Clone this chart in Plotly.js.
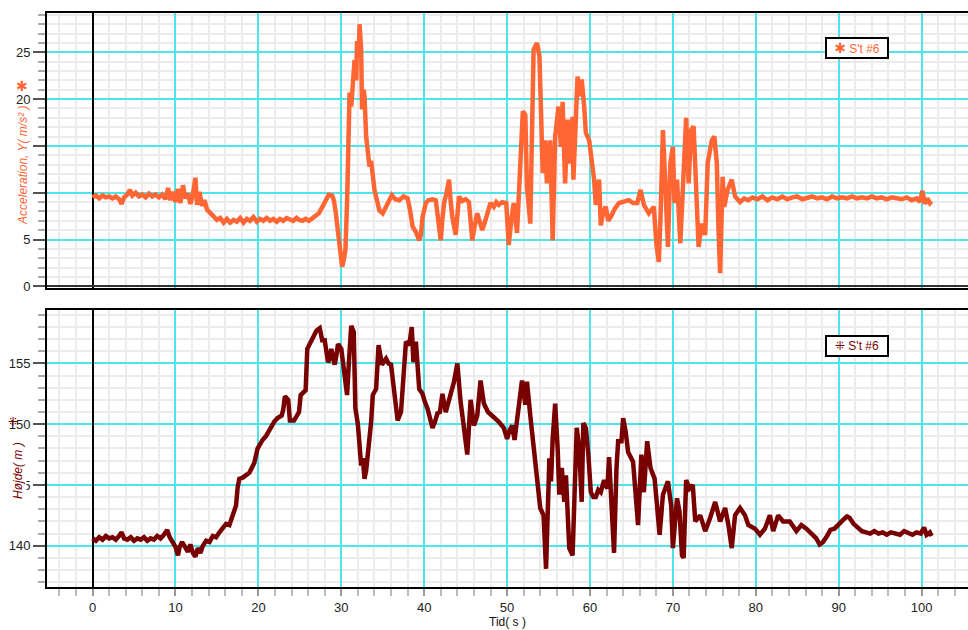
<!DOCTYPE html>
<html>
<head>
<meta charset="utf-8">
<script src="https://cdn.plot.ly/plotly-3.0.1.min.js"></script>
<style>html,body{margin:0;padding:0;background:#fff;}#chart{width:968px;height:630px;}</style>
</head>
<body>
<div id="chart"></div>
<script>
// Acceleration, Y (m/s²) – series "S't #6"
const accT = [0,0.4,0.8,1.2,1.6,2.0,2.4,2.8,3.2,3.5,3.8,4.2,4.5,4.8,5.2,5.6,6.0,6.4,6.8,7.2,7.6,8.0,8.4,8.8,9.1,9.4,9.7,10.0,10.3,10.6,10.9,11.2,11.5,11.8,12.1,12.4,12.6,12.9,13.2,13.5,13.8,14.2,14.6,15.0,15.4,15.8,16.2,16.6,17.0,17.4,17.8,18.2,18.6,19.0,19.4,19.8,20.2,20.6,21.0,21.4,21.8,22.2,22.6,23.0,23.4,23.8,24.2,24.6,24.9,25.3,25.7,26.1,26.5,26.9,27.3,27.6,27.9,28.2,28.5,28.9,29.1,29.3,29.5,29.7,29.9,30.1,30.3,30.5,30.7,30.8,31.0,31.2,31.4,31.6,31.8,31.9,32.1,32.2,32.4,32.5,32.7,32.8,33.0,33.2,33.4,33.6,33.8,34.0,34.3,34.6,35.0,35.4,35.8,36.1,36.5,37.0,37.5,38.0,38.3,38.6,39.0,39.4,39.6,39.8,40.2,40.5,41.0,41.4,41.7,42.0,42.2,42.4,42.7,43.0,43.2,43.4,43.8,44.0,44.2,44.6,45.0,45.4,45.8,46.1,46.4,46.7,47.0,47.3,47.6,48.0,48.4,48.7,49.0,49.4,49.9,50.2,50.5,50.8,51.2,51.6,51.9,52.2,52.4,52.8,53.0,53.2,53.6,53.9,54.1,54.3,54.6,54.8,55.2,55.5,55.8,56.2,56.5,56.7,57.0,57.3,57.6,57.9,58.0,58.3,58.5,58.8,59.0,59.3,59.5,59.9,60.2,60.5,60.7,61.1,61.3,61.6,61.9,62.2,62.5,63.0,63.5,64.0,64.7,65.2,65.7,66.1,66.5,67.1,67.7,68.0,68.3,68.5,68.8,69.1,69.4,69.7,70.0,70.2,70.5,70.9,71.3,71.6,71.9,72.2,72.5,72.7,73.1,73.5,73.9,74.2,74.7,75.0,75.3,75.5,75.7,76.0,76.2,76.6,77.1,77.5,78.1,78.6,79.1,79.6,80.2,80.8,81.4,82.0,82.6,83.2,83.8,84.4,85.0,85.6,86.2,86.8,87.4,88.0,88.6,89.2,89.8,90.4,91.0,91.6,92.2,92.8,93.4,94.0,94.6,95.2,95.8,96.4,97.0,97.6,98.2,98.8,99.4,99.8,100.1,100.4,100.7,101.0,101.2];
const accY = [9.5,9.7,9.4,9.7,9.5,9.6,9.4,9.6,9.3,8.8,9.5,9.8,10.3,9.7,10.0,9.6,9.8,9.5,9.9,9.6,9.8,9.5,9.8,9.3,10.5,9.2,10.1,9.0,10.4,8.9,10.8,9.4,9.9,8.8,9.8,11.6,8.7,10.1,8.6,9.2,8.2,7.8,7.4,7.1,7.3,6.8,7.2,6.8,7.1,6.9,7.3,6.8,7.2,7.0,7.4,6.9,7.2,7.0,7.3,7.0,7.2,6.9,7.2,7.0,7.3,7.1,7.0,7.3,7.1,7.0,7.2,7.0,7.3,7.5,7.8,8.3,8.8,9.2,9.8,9.7,9.2,8.1,6.8,5.3,3.5,2.1,2.8,3.9,9.0,13.5,20.7,19.2,21.5,24.2,22.0,26.2,24.5,28.0,25.3,18.9,21.0,20.3,16.0,14.5,12.8,13.4,11.2,10.3,9.2,8.1,7.8,8.6,9.4,9.75,9.3,9.2,9.6,9.4,8.1,6.4,5.8,4.9,5.5,7.4,8.9,9.2,9.3,9.2,7.0,4.9,7.2,8.9,10.0,11.4,9.0,7.4,5.5,7.5,9.6,9.1,9.3,9.0,4.9,6.5,7.8,6.9,6.0,6.8,7.6,8.9,8.5,9.0,8.7,9.0,8.9,4.4,7.0,8.9,5.7,14.3,18.7,18.3,10.6,6.7,16.0,25.3,26.0,24.6,18.5,12.1,15.6,11.0,15.6,4.9,16.0,19.2,14.9,19.7,11.0,17.8,13.1,18.1,11.4,20.3,22.4,20.3,22.1,19.2,16.4,15.6,13.5,11.4,8.7,11.4,6.5,8.0,8.5,7.0,7.4,8.3,8.9,9.0,9.2,8.9,8.9,10.3,8.7,7.8,8.5,4.6,2.6,7.1,16.7,10.6,4.2,13.2,14.9,8.9,11.4,4.6,12.4,18.0,11.0,16.7,17.1,11.7,4.2,6.7,5.5,13.2,15.6,16.0,13.2,6.0,1.4,11.7,8.5,10.3,11.4,9.6,9.0,9.4,9.2,9.5,9.3,9.6,9.2,9.5,9.3,9.6,9.3,9.5,9.6,9.3,9.5,9.6,9.4,9.5,9.3,9.6,9.4,9.5,9.4,9.6,9.4,9.5,9.4,9.6,9.4,9.5,9.3,9.5,9.4,9.3,9.5,9.2,9.4,9.0,10.2,8.8,9.4,8.9,9.1];

// Højde (m) – series "S't #6"
const hT = [0,0.4,0.8,1.2,1.6,2.0,2.4,2.8,3.2,3.5,3.8,4.2,4.6,5.0,5.4,5.8,6.2,6.6,7.0,7.4,7.8,8.2,8.6,9.0,9.3,9.6,10.0,10.3,10.5,10.8,11.1,11.5,11.8,12.1,12.4,12.7,13.0,13.3,13.7,14.1,14.5,14.9,15.3,15.7,16.1,16.5,16.8,17.1,17.3,17.5,17.7,18.1,18.5,18.9,19.2,19.5,19.9,20.2,20.5,20.9,21.2,21.5,21.9,22.3,22.8,23.0,23.2,23.6,23.8,24.3,24.6,24.9,25.1,25.4,25.7,25.9,26.3,26.7,27.0,27.4,27.7,28.0,28.2,28.4,28.6,28.8,29.0,29.2,29.4,29.6,30.0,30.2,30.4,30.7,30.9,31.2,31.5,31.7,32.0,32.2,32.4,32.6,32.8,33.0,33.2,33.6,33.8,34.2,34.5,34.7,34.9,35.4,35.7,36.0,36.4,36.8,37.2,37.4,37.8,38.2,38.5,38.7,39.0,39.4,39.8,40.1,40.4,40.7,41.0,41.3,41.6,41.9,42.2,42.6,43.2,43.6,44.0,44.4,44.8,45.2,45.6,46.0,46.4,46.8,47.2,47.7,48.2,48.6,49.0,49.6,50.0,50.3,50.6,50.9,51.3,51.8,52.2,52.4,52.8,53.2,53.6,54.0,54.4,54.7,55.1,55.3,55.5,55.8,56.1,56.3,56.6,56.9,57.1,57.5,57.9,58.4,58.7,59.0,59.2,59.5,59.8,60.1,60.4,60.7,61.0,61.3,61.7,62.1,62.3,62.7,62.9,63.2,63.4,63.8,64.0,64.3,64.6,65.2,65.5,65.8,66.2,66.5,66.9,67.3,67.8,68.1,68.4,68.8,69.4,69.8,70.0,70.5,70.8,71.1,71.3,71.6,72.0,72.4,72.7,73.3,73.9,74.5,75.1,75.7,76.3,76.7,77.1,77.5,78.1,78.7,79.1,79.9,80.5,81.1,81.7,82.1,82.7,83.3,84.1,84.9,85.5,86.1,86.7,87.3,87.7,88.1,88.6,89.0,89.5,90.0,90.5,91.0,91.3,91.8,92.3,92.8,93.3,93.8,94.3,94.8,95.3,95.8,96.3,96.8,97.4,97.9,98.4,98.9,99.4,99.9,100.3,100.6,101.0,101.2];
const hY = [140.6,140.4,140.7,140.5,140.8,140.6,140.7,140.5,140.8,141.1,140.6,140.5,140.7,140.4,140.6,140.5,140.7,140.4,140.6,140.5,140.8,140.6,140.9,141.3,140.7,140.3,139.9,139.2,139.9,140.3,140.0,139.5,140.1,139.4,139.1,139.8,139.4,140.0,140.4,140.3,140.8,140.7,141.1,141.4,141.8,141.7,142.3,142.8,143.3,144.8,145.5,145.6,145.8,146.0,146.4,146.8,148.0,148.4,148.7,149.0,149.4,149.7,150.2,150.5,150.7,151.2,152.3,152.0,150.3,150.3,150.6,151.0,152.4,152.6,152.8,156.2,156.8,157.3,157.7,157.9,156.9,156.9,156.2,155.1,155.4,156.2,155.5,154.9,155.6,156.6,156.2,155.2,154.0,152.4,154.9,158.1,157.6,151.3,150.0,148.6,146.6,147.2,145.5,146.2,147.5,150.2,152.4,152.9,156.5,155.5,154.9,155.4,155.0,154.9,152.9,150.3,151.0,152.7,156.8,156.5,158.0,155.1,156.8,152.9,152.5,151.8,151.3,150.5,149.7,150.2,150.9,151.0,152.5,151.0,152.4,153.5,155.0,151.8,149.7,147.5,152.0,149.9,150.7,153.6,151.7,151.0,150.7,150.5,150.2,149.7,148.8,149.5,149.9,148.7,150.7,153.6,151.6,153.5,150.7,148.0,145.8,143.1,142.5,138.1,147.2,145.3,148.8,151.7,148.0,144.2,146.4,143.6,145.8,139.8,139.2,149.7,148.0,143.6,150.1,149.7,147.5,144.4,144.0,144.0,144.6,144.4,145.4,144.7,147.3,142.5,139.4,146.4,148.6,148.6,150.5,149.4,147.7,146.9,144.7,141.7,147.5,144.4,148.6,146.4,145.5,143.6,140.9,144.2,145.3,143.3,139.8,143.9,142.8,139.2,139.0,145.4,144.7,145.0,142.0,142.5,141.2,142.3,143.6,142.0,143.1,141.7,139.8,142.5,143.1,142.5,141.7,141.4,140.9,141.4,142.5,141.2,142.5,142.0,142.0,141.2,141.7,141.4,141.0,140.6,140.1,140.3,140.8,141.3,141.4,141.8,142.1,142.4,142.3,141.8,141.5,141.2,141.1,141.0,141.2,141.0,141.1,140.9,141.1,141.0,140.9,141.2,141.0,140.9,141.1,141.0,141.5,140.9,141.1,140.8];

const seriesName = "S't #6";
const accTitle = "Acceleration, Y( m/s² )";
const hTitle = "Højde( m )";
const xTitle = "Tid( s )";

const ORANGE = '#FF6633';
const MAROON = '#780000';
const CYAN = '#4FE3EA';
const MINOR = '#EBEBEB';
const FONT = 'Liberation Sans, Arial, sans-serif';

const traces = [
  {x: accT, y: accY, xaxis: 'x2', yaxis: 'y2', mode: 'lines', name: seriesName,
   line: {color: ORANGE, width: 4.5}, showlegend: false},
  {x: hT, y: hY, xaxis: 'x', yaxis: 'y', mode: 'lines', name: seriesName,
   line: {color: MAROON, width: 4.5}, showlegend: false}
];

const commonX = {
  range: [-5.5, 105.6], tick0: 0, dtick: 10,
  showgrid: true, gridcolor: CYAN, gridwidth: 2,
  zeroline: true, zerolinecolor: '#000', zerolinewidth: 2,
  showline: true, linecolor: '#000', linewidth: 2, mirror: true,
  tickfont: {family: FONT, size: 13, color: '#222'}
};

const layout = {
  width: 968, height: 630,
  margin: {l: 47, r: 0, t: 13, b: 43},
  paper_bgcolor: '#fff', plot_bgcolor: '#fff',
  showlegend: false,
  xaxis: Object.assign({}, commonX, {
    anchor: 'y', domain: [0, 1],
    ticks: 'outside', ticklen: 7, tickwidth: 2, tickcolor: '#999',
    minor: {dtick: 2, showgrid: true, gridcolor: MINOR, gridwidth: 2,
            ticks: 'outside', ticklen: 7, tickwidth: 2, tickcolor: '#bbb'},
    title: {text: xTitle, font: {family: FONT, size: 12, color: '#111'}, standoff: 0}
  }),
  xaxis2: Object.assign({}, commonX, {
    anchor: 'y2', matches: 'x', domain: [0, 1],
    showticklabels: false, ticks: '',
    minor: {dtick: 2, showgrid: true, gridcolor: MINOR, gridwidth: 2, ticks: ''}
  }),
  yaxis: {
    anchor: 'x', domain: [0, 0.4826], range: [136.6, 159.4],
    tick0: 0, dtick: 5,
    showgrid: true, gridcolor: CYAN, gridwidth: 2, zeroline: false,
    showline: true, linecolor: '#000', linewidth: 2, mirror: false,
    ticks: 'outside', ticklen: 12, tickwidth: 2, tickcolor: '#555',
    minor: {dtick: 1, showgrid: true, gridcolor: MINOR, gridwidth: 2,
            ticks: 'outside', ticklen: 7, tickwidth: 2, tickcolor: '#aaa'},
    tickfont: {family: FONT, size: 13, color: '#222'}
  },
  yaxis2: {
    anchor: 'x2', domain: [0.5209, 1], range: [-0.18, 29.2],
    tick0: 0, dtick: 5,
    showgrid: true, gridcolor: CYAN, gridwidth: 2,
    zeroline: true, zerolinecolor: '#333', zerolinewidth: 2,
    showline: true, linecolor: '#000', linewidth: 2, mirror: false,
    ticks: 'outside', ticklen: 12, tickwidth: 2, tickcolor: '#555',
    minor: {dtick: 1, showgrid: true, gridcolor: MINOR, gridwidth: 2,
            ticks: 'outside', ticklen: 7, tickwidth: 2, tickcolor: '#aaa'},
    tickfont: {family: FONT, size: 13, color: '#222'}
  },
  annotations: [
    {xref: 'paper', yref: 'paper', x: -0.0261, y: 0.7352, xanchor: 'center', yanchor: 'middle',
     text: '<i>' + accTitle + '</i>', textangle: -90, showarrow: false, bgcolor: '#fff', borderpad: 1,
     font: {family: FONT, size: 12, color: ORANGE}},
    {xref: 'paper', yref: 'paper', x: -0.0271, y: 0.872, xanchor: 'center', yanchor: 'middle',
     text: '✱', showarrow: false, font: {family: 'DejaVu Sans', size: 14, color: ORANGE}},
    {xref: 'paper', yref: 'paper', x: -0.0315, y: 0.2038, xanchor: 'center', yanchor: 'middle',
     text: '<i>' + hTitle + '</i>', textangle: -90, showarrow: false, bgcolor: '#fff', borderpad: 1,
     font: {family: FONT, size: 12, color: MAROON}},
    {xref: 'paper', yref: 'paper', x: -0.0369, y: 0.288, xanchor: 'center', yanchor: 'middle',
     text: '⁜', showarrow: false, font: {family: 'DejaVu Sans', size: 12, color: MAROON}},
    {xref: 'paper', yref: 'paper', x: 0.8795, y: 0.939, xanchor: 'center', yanchor: 'middle',
     width: 56, height: 14,
     text: '<span style="font-family:DejaVu Sans;font-size:14px">✱</span> ' + seriesName, showarrow: false,
     bgcolor: '#fff', bordercolor: '#000', borderwidth: 2, borderpad: 2,
     font: {family: FONT, size: 12, color: ORANGE}},
    {xref: 'paper', yref: 'paper', x: 0.8795, y: 0.4207, xanchor: 'center', yanchor: 'middle',
     width: 56, height: 14,
     text: '<span style="font-family:DejaVu Sans">⁜</span> ' + seriesName, showarrow: false,
     bgcolor: '#fff', bordercolor: '#000', borderwidth: 2, borderpad: 2,
     font: {family: FONT, size: 12, color: MAROON}}
  ]
};

Plotly.newPlot('chart', traces, layout, {staticPlot: true, displayModeBar: false});
</script>
</body>
</html>
